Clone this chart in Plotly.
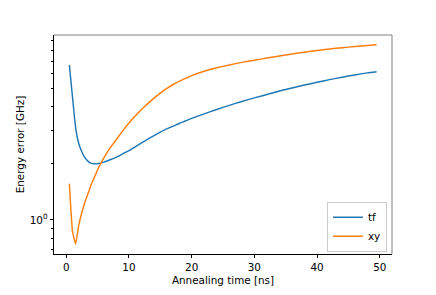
import plotly.graph_objects as go

x_tf = [0.5, 1.0, 1.5, 2.0, 2.5, 3.0, 3.5, 4.0, 4.5, 5.0, 6.0, 7.0, 8.0, 9.0, 10.0, 11.0, 12.0,
        13.0, 14.0, 15.0, 16.0, 17.0, 18.0, 19.0, 20.0, 22.0, 24.0, 26.0, 28.0, 30.0, 32.0, 34.0,
        36.0, 38.0, 40.0, 42.0, 44.0, 46.0, 48.0, 49.5]
y_tf = [6.67, 4.5, 3.1, 2.55, 2.3, 2.14, 2.05, 2.0, 1.99, 1.99, 2.03, 2.09, 2.16, 2.25, 2.34, 2.45, 2.57,
        2.69, 2.81, 2.93, 3.05, 3.15, 3.26, 3.36, 3.47, 3.67, 3.87, 4.07, 4.27, 4.46, 4.65, 4.85,
        5.04, 5.22, 5.4, 5.58, 5.75, 5.91, 6.06, 6.15]

x_xy = [0.5, 1.0, 1.5, 2.0, 2.5, 3.0, 3.5, 4.0, 4.5, 5.0, 5.5, 6.0, 7.0, 8.0, 9.0, 10.0, 11.0,
        12.0, 13.0, 14.0, 15.0, 16.0, 17.0, 18.0, 19.0, 20.0, 22.0, 24.0, 26.0, 28.0, 30.0, 32.0,
        34.0, 36.0, 38.0, 40.0, 42.0, 44.0, 46.0, 48.0, 49.5]
y_xy = [1.56, 0.866, 0.745, 0.94, 1.10, 1.25, 1.39, 1.55, 1.69, 1.85, 2.0, 2.14, 2.42, 2.68, 2.98, 3.28, 3.57,
        3.87, 4.16, 4.45, 4.73, 5.0, 5.24, 5.46, 5.66, 5.86, 6.18, 6.45, 6.68, 6.89, 7.08, 7.27,
        7.46, 7.64, 7.81, 7.97, 8.12, 8.25, 8.37, 8.48, 8.56]

x_ticks = [0, 10, 20, 30, 40, 50]
y_major = [1]
y_major_text = ["10<sup>0</sup>"]
y_minor = [0.6, 0.7, 0.8, 0.9, 2, 3, 4, 5, 6, 7, 8, 9]

font = dict(family="DejaVu Sans", size=10.4, color="black")

fig = go.Figure()
fig.add_trace(go.Scatter(x=x_tf, y=y_tf, mode="lines", name="tf", line_shape="spline",
                         line=dict(color="#1f77b4", width=1.45, smoothing=0.5)))
fig.add_trace(go.Scatter(x=x_xy, y=y_xy, mode="lines", name="xy", line_shape="spline",
                         line=dict(color="#ff7f0e", width=1.45, smoothing=0.3)))

# page body has an 8px default margin; margins compensate so the plot box lands at 54..392 x 35..254
fig.update_layout(
    width=436, height=295,
    margin=dict(l=46, r=52, t=27, b=49),
    paper_bgcolor="white", plot_bgcolor="white",
    font=font,
    showlegend=True,
    legend=dict(x=0.985, y=0.01, xanchor="right", yanchor="bottom",
                bordercolor="#cccccc", borderwidth=1, bgcolor="rgba(255,255,255,0.8)",
                font=font, itemwidth=30, tracegroupgap=0),
    xaxis=dict(range=[-1.95, 51.95], tickvals=x_ticks, ticks="outside", ticklen=3.5,
               tickwidth=0.8, tickcolor="black", showline=True, linecolor="black", linewidth=0.8,
               showgrid=False, zeroline=False, automargin=False,
               title=dict(text="Annealing time [ns]", font=font, standoff=4)),
    yaxis=dict(type="log", range=[-0.181, 0.984], tickvals=y_major, ticktext=y_major_text,
               ticks="outside", ticklen=3.5, tickwidth=0.8, tickcolor="black",
               showline=True, linecolor="black", linewidth=0.8, showgrid=False, zeroline=False,
               automargin=False,
               minor=dict(tickvals=y_minor, ticks="outside", ticklen=2, tickwidth=0.6,
                          tickcolor="black", showgrid=False),
               title=dict(text="Energy error [GHz]", font=font, standoff=3)),
)

fig.add_shape(type="line", xref="x domain", yref="y domain", x0=0, x1=1, y0=1, y1=1,
              line=dict(color="#808080", width=1))
fig.add_shape(type="line", xref="x domain", yref="y domain", x0=1, x1=1, y0=0, y1=1,
              line=dict(color="#808080", width=1))

fig.write_html("out.html")
